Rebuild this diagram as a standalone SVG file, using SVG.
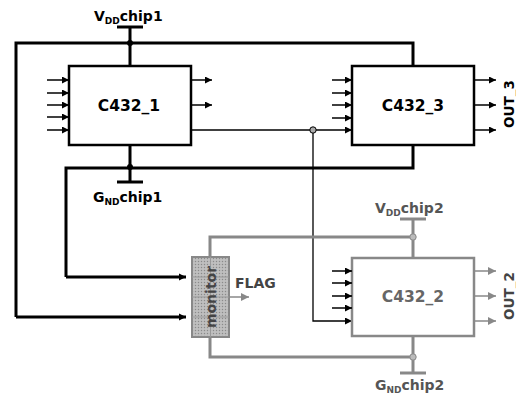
<svg xmlns="http://www.w3.org/2000/svg" width="516" height="396" viewBox="0 0 516 396">
<style>
.bk{fill:none;stroke:#000;stroke-width:3}
.th{fill:none;stroke:#000;stroke-width:1.3}
.gr{fill:none;stroke:#888;stroke-width:3}
.box{fill:#fff;stroke:#000;stroke-width:2.5}
.gbox{fill:#fff;stroke:#888;stroke-width:2.5}
.t{font-family:"DejaVu Sans",Verdana,sans-serif;font-weight:bold}
.lbl{font-size:15.5px;text-anchor:middle}
.pw{font-size:14px}
.sub{font-size:9px}
.ar{stroke:#000;stroke-width:1.5}
.gar{stroke:#888;stroke-width:1.5}
</style>
<defs>
<marker id="ah" viewBox="0 0 10 10" refX="10" refY="5" markerWidth="7" markerHeight="7" markerUnits="userSpaceOnUse" orient="auto"><path d="M0,0 L10,5 L0,10 z" fill="#000"/></marker>
<marker id="ahs" viewBox="0 0 10 10" refX="10" refY="5" markerWidth="7" markerHeight="9" markerUnits="userSpaceOnUse" orient="auto"><path d="M0,0 L10,5 L0,10 z" fill="#000"/></marker>
<marker id="gah" viewBox="0 0 10 10" refX="10" refY="5" markerWidth="8" markerHeight="8" markerUnits="userSpaceOnUse" orient="auto"><path d="M0,0 L10,5 L0,10 z" fill="#888"/></marker>
<pattern id="dots" width="3" height="3" patternUnits="userSpaceOnUse"><rect width="3" height="3" fill="#b8b8b8"/><rect x="0" y="0" width="1" height="1" fill="#8a8a8a"/><rect x="1.5" y="1.5" width="1" height="1" fill="#d4d4d4"/></pattern>
</defs>

<g id="connectors">
<path class="bk" d="M130,27 V43 M16,317 V43 H413 V66 M130,43 V66"/>
<path class="bk" d="M130,182 V145 M66,277 V168 H413 V145"/>
<path class="bk" d="M16,317 H186" marker-end="url(#ahs)"/>
<path class="bk" d="M66,277 H186" marker-end="url(#ahs)"/>
<path class="th" d="M191,130 H352" marker-end="url(#ah)"/>
<path class="th" d="M313,130 V321 H352" marker-end="url(#ah)"/>
<circle cx="313" cy="130" r="3.2" fill="#aaa" stroke="#000" stroke-width="1"/>
<circle cx="130" cy="43" r="3" fill="#000"/>
<circle cx="130" cy="167" r="3" fill="#000"/>
<path class="gr" d="M210,257 V237 H413 M413,219 V258"/>
<path class="gr" d="M210,337 V357 H413 M413,336 V373"/>
<circle cx="413" cy="237" r="3.2" fill="#bbb" stroke="#888" stroke-width="1"/>
<circle cx="413" cy="357" r="3.2" fill="#bbb" stroke="#888" stroke-width="1"/>
<path class="gar" d="M229,297 H249" marker-end="url(#gah)"/>
</g>

<g id="vdd1">
<line class="bk" x1="117" y1="27" x2="143" y2="27"/>
<text class="t pw" x="94" y="21">V<tspan class="sub" dy="3">DD</tspan><tspan dy="-3">chip1</tspan></text>
</g>
<g id="gnd1">
<line class="bk" x1="117" y1="182" x2="143" y2="182"/>
<text class="t pw" x="93" y="202">G<tspan class="sub" dy="3">ND</tspan><tspan dy="-3">chip1</tspan></text>
</g>

<g id="C432_1">
<rect class="box" x="69" y="66" width="122" height="79"/>
<text class="t lbl" x="129" y="111">C432_1</text>
<g class="ar" marker-end="url(#ah)">
<line x1="47" y1="80" x2="69" y2="80"/><line x1="47" y1="93" x2="69" y2="93"/><line x1="47" y1="105" x2="69" y2="105"/><line x1="47" y1="117" x2="69" y2="117"/><line x1="47" y1="130" x2="69" y2="130"/>
<line x1="191" y1="80" x2="212" y2="80"/><line x1="191" y1="105" x2="212" y2="105"/>
</g>
</g>

<g id="C432_3">
<rect class="box" x="352" y="66" width="122" height="79"/>
<text class="t lbl" x="413" y="111">C432_3</text>
<g class="ar" marker-end="url(#ah)">
<line x1="332" y1="80" x2="352" y2="80"/><line x1="332" y1="93" x2="352" y2="93"/><line x1="332" y1="105" x2="352" y2="105"/><line x1="332" y1="118" x2="352" y2="118"/>
<line x1="474" y1="80" x2="496" y2="80"/><line x1="474" y1="105" x2="496" y2="105"/><line x1="474" y1="130" x2="496" y2="130"/>
</g>
<text class="t" font-size="13.5" text-anchor="middle" transform="translate(514,104) rotate(-90)">OUT_3</text>
</g>

<g id="monitor">
<rect x="192" y="257" width="37" height="80" fill="url(#dots)" stroke="#888" stroke-width="2"/>
<path d="M210.5,257 V337 M192,277 H229 M192,297 H229 M192,317 H229" stroke="#999" stroke-width="1" fill="none"/>
<text class="t" font-size="14" fill="#444" text-anchor="middle" transform="translate(216,297) rotate(-90)">monitor</text>
</g>
<g id="flag">
<text class="t pw" x="235" y="288" fill="#444">FLAG</text>
</g>

<g id="vdd2">
<line class="gr" x1="400" y1="219" x2="426" y2="219"/>
<text class="t pw" x="375" y="213" fill="#555">V<tspan class="sub" dy="3">DD</tspan><tspan dy="-3">chip2</tspan></text>
</g>
<g id="gnd2">
<line class="gr" x1="400" y1="373" x2="426" y2="373"/>
<text class="t pw" x="375" y="390" fill="#555">G<tspan class="sub" dy="2.5">ND</tspan><tspan dy="-2.5">chip2</tspan></text>
</g>

<g id="C432_2">
<rect class="gbox" x="352" y="258" width="122" height="78"/>
<text class="t lbl" x="413" y="302" fill="#666">C432_2</text>
<g class="ar" marker-end="url(#ah)">
<line x1="332" y1="271" x2="352" y2="271"/><line x1="332" y1="283" x2="352" y2="283"/><line x1="332" y1="296" x2="352" y2="296"/><line x1="332" y1="308" x2="352" y2="308"/>
</g>
<g class="gar" marker-end="url(#gah)">
<line x1="474" y1="271" x2="496" y2="271"/><line x1="474" y1="296" x2="496" y2="296"/><line x1="474" y1="321" x2="496" y2="321"/>
</g>
<text class="t" font-size="13.5" fill="#444" text-anchor="middle" transform="translate(514,296) rotate(-90)">OUT_2</text>
</g>
</svg>
